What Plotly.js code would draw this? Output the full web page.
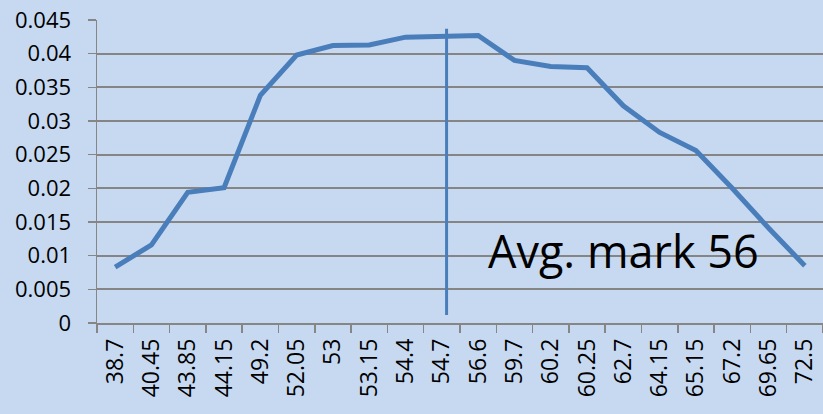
<!DOCTYPE html>
<html>
<head>
<meta charset="utf-8">
<script src="https://cdn.plot.ly/plotly-3.0.1.min.js"></script>
<style>html,body{margin:0;padding:0;background:#C6D9F1;}#chart{width:823px;height:414px;}</style>
</head>
<body>
<div id="chart"></div>
<script>
const categories = ["38.7","40.45","43.85","44.15","49.2","52.05","53","53.15","54.4","54.7","56.6","59.7","60.2","60.25","62.7","64.15","65.15","67.2","69.65","72.5"];
const values = [0.0083,0.0116,0.0194,0.0201,0.0338,0.0398,0.0412,0.0413,0.04245,0.0426,0.0427,0.0390,0.0381,0.0379,0.03225,0.0283,0.0256,0.0200,0.0141,0.0085];
const avgLabel = "Avg. mark 56";
const avgPosition = 9.13;      // category-index position of the average marker
const avgLineRange = [0.0012, 0.0437];

const font = "'Open Sans', 'Noto Sans', sans-serif";

const trace = {
  type: "scatter", mode: "lines",
  x: categories, y: values,
  line: {color: "#4A7EBB", width: 5},
  hoverinfo: "skip"
};

const layout = {
  width: 823, height: 414,
  margin: {l: 97, r: 0, t: 20, b: 91},
  paper_bgcolor: "#C6D9F1",
  plot_bgcolor: "#C6D9F1",
  showlegend: false,
  font: {family: font, size: 23, color: "#000"},
  xaxis: {
    type: "category",
    tickson: "boundaries",
    ticks: "outside", ticklen: 8, tickwidth: 1.5, tickcolor: "#868686",
    showline: true, linecolor: "#868686", linewidth: 1.5,
    showgrid: false, zeroline: false,
    tickangle: -90,
    ticklabelstandoff: 5,
    tickfont: {family: font, size: 23, color: "#000"},
    range: [-0.5, categories.length - 0.5]
  },
  yaxis: {
    range: [0, 0.045], dtick: 0.005, tick0: 0,
    ticks: "outside", ticklen: 8, tickwidth: 1.5, tickcolor: "#868686",
    showline: true, linecolor: "#868686", linewidth: 1.5,
    showgrid: true, gridcolor: "#858585", gridwidth: 1.8,
    zeroline: false,
    ticklabelstandoff: 12,
    tickfont: {family: font, size: 22, color: "#000"}
  },
  shapes: [{
    type: "line", xref: "x", yref: "y",
    x0: avgPosition, x1: avgPosition, y0: avgLineRange[0], y1: avgLineRange[1],
    line: {color: "#4A7EBB", width: 3}
  }],
  annotations: [{
    text: avgLabel, xref: "paper", yref: "y",
    x: (623 - 97) / 726, y: 0.0108,
    xanchor: "center", yanchor: "middle",
    showarrow: false,
    font: {family: font, size: 45, color: "#000"}
  }]
};

Plotly.newPlot("chart", [trace], layout, {displayModeBar: false, staticPlot: true});
</script>
</body>
</html>
